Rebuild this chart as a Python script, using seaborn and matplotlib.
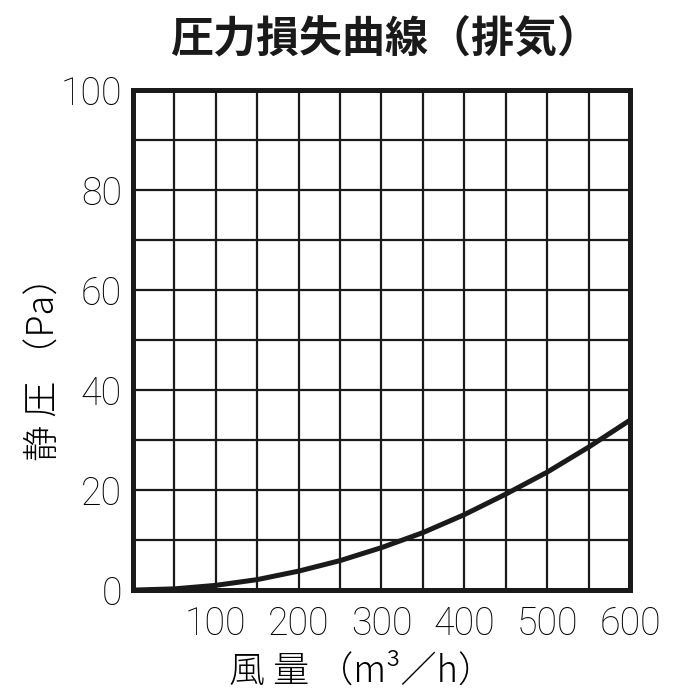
import seaborn as sns
import matplotlib.pyplot as plt
import numpy as np
import pandas as pd

# air volume (m3/h) and static pressure (Pa)
airflow = [0, 50, 100, 150, 200, 250, 300, 350, 400, 450, 500, 550, 600]
pressure = [0, 0.25, 0.95, 2.1, 3.8, 5.9, 8.5, 11.5, 15.1, 19.2, 23.6, 28.6, 34]

x_ticks = [100, 200, 300, 400, 500, 600]
y_ticks = [0, 20, 40, 60, 80, 100]

title = '圧力損失曲線（排気）'
x_label = '風 量 （m³／h）'
y_label = '静 圧 （Pa）'

sns.set_style('white')
plt.rcParams['font.family'] = ['Noto Sans CJK JP', 'DejaVu Sans']

df = pd.DataFrame({'airflow': airflow, 'pressure': pressure})

fig = plt.figure(figsize=(7, 7), dpi=100)
ax = fig.add_axes([0.19, 0.157, 0.71, 0.714])

sns.lineplot(data=df, x='airflow', y='pressure', ax=ax, color='#1a1a1a',
             linewidth=3.6)

ax.set_xlim(0, 600)
ax.set_ylim(0, 100)

# grid every 50 m3/h and every 10 Pa
ax.set_xticks(x_ticks)
ax.set_yticks(y_ticks)
ax.set_xticks(np.arange(0, 601, 50), minor=True)
ax.set_yticks(np.arange(0, 101, 10), minor=True)
ax.grid(which='both', color='#1a1a1a', linewidth=1.6)
ax.set_axisbelow(True)

tick_font = dict(family=['Roboto', 'DejaVu Sans'], weight='light', size=27,
                 color='black')
ax.set_xticklabels([str(v) for v in x_ticks], fontdict=tick_font)
ax.set_yticklabels([str(v) for v in y_ticks], fontdict=tick_font)
ax.tick_params(which='both', length=0)
ax.tick_params(axis='x', pad=11)
ax.tick_params(axis='y', pad=8)

for s in ax.spines.values():
    s.set_visible(True)
    s.set_linewidth(3.6)
    s.set_color('#1a1a1a')

ax.set_xlabel(x_label, fontsize=26, color='black', fontweight='light')
ax.set_ylabel(y_label, fontsize=26, color='black', fontweight='light')
ax.xaxis.set_label_coords(0.46, -0.125)
ax.yaxis.set_label_coords(-0.14, 0.46)

fig.text(0.55, 0.945, title, ha='center', va='center', fontsize=31,
         fontweight='bold', color='#1a1a1a')

fig.savefig('out.png', dpi=100)
